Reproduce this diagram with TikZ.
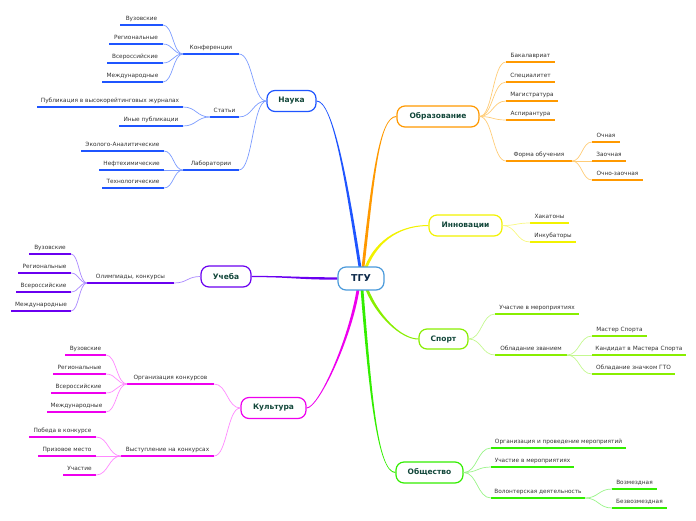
\documentclass[tikz,border=0pt]{standalone}
\usepackage{fontspec}
\setmainfont{DejaVu Sans}
\usetikzlibrary{calc}
\pgfdeclarelayer{bg}
\pgfsetlayers{bg,main}
\definecolor{cblue}{HTML}{1F55FF}
\definecolor{cbluel}{HTML}{7C9CFF}
\definecolor{corange}{HTML}{FF9900}
\definecolor{corangel}{HTML}{FFCC77}
\definecolor{cyellow}{HTML}{F2F200}
\definecolor{cyellowl}{HTML}{F8F880}
\definecolor{clime}{HTML}{88EE00}
\definecolor{climl}{HTML}{C4F890}
\definecolor{cgreen}{HTML}{33EE00}
\definecolor{cgreenl}{HTML}{99F488}
\definecolor{cpurple}{HTML}{6A00F0}
\definecolor{cpurplel}{HTML}{AA88FF}
\definecolor{cmag}{HTML}{EE00EE}
\definecolor{cmagl}{HTML}{FF88FF}
\definecolor{ctgu}{HTML}{4A9ADB}
\definecolor{txtgreen}{HTML}{12473A}
\definecolor{txtnavy}{HTML}{0D2A4A}
\definecolor{txtgray}{HTML}{333333}
\tikzset{
  hc/.style={to path={let \p1=(\tikztostart), \p2=(\tikztotarget) in
     .. controls (\x1/2+\x2/2,\y1) and (\x1/2+\x2/2,\y2) .. (\tikztotarget)}},
  mainbox/.style={draw=#1, line width=1.2pt, rounded corners=8pt, fill=white,
     minimum height=21pt, inner xsep=2pt, inner ysep=0pt,
     font=\fontsize{7.5}{9}\selectfont\bfseries, text=txtgreen},
  ul/.style={draw=#1, line width=1.6pt},
  sc/.style={draw=#1, line width=0.7pt},
  lbl/.style={font=\fontsize{5.8}{7}\selectfont, text=txtgray, inner sep=0pt, anchor=base}
}
\newcommand\mmsub[6]{%
  \coordinate (#1-l) at (#2,#4);
  \coordinate (#1-r) at (#3,#4);
  \draw[ul=#5] (#1-l) -- (#1-r);
  \node[lbl] (#1) at ({(#2+#3)/2},#4-4.5) {#6};
}
% tapered main connector: start, offset1, offset2, end, half-width start, half-width end, colour
\newcommand\taper[7]{%
  \coordinate (tp0) at (#1);
  \coordinate (tp3) at (#4);
  \coordinate (tp1) at ($(tp0)+#2$);
  \coordinate (tp2) at ($(tp3)+#3$);
  \coordinate (ta) at ($(tp0)!#5!90:(tp1)$);
  \coordinate (tb) at ($(tp0)!#5!-90:(tp1)$);
  \coordinate (tc) at ($(tp3)!#6!-90:(tp2)$);
  \coordinate (td) at ($(tp3)!#6!90:(tp2)$);
  \fill[#7] (ta) .. controls ($(tp1)+(ta)-(tp0)$) and ($(tp2)+(tc)-(tp3)$) .. (tc)
     -- (td) .. controls ($(tp2)+(td)-(tp3)$) and ($(tp1)+(tb)-(tp0)$) .. (tb) -- cycle;
}
\begin{document}
\begin{tikzpicture}[x=1pt,y=-1pt]
\useasboundingbox (0,0) rectangle (696,520);

% main nodes
\node[mainbox=ctgu, minimum width=46pt, minimum height=23pt, text=txtnavy,
      font=\fontsize{9.5}{11}\selectfont\bfseries] (tgu) at (361,278.5) {ТГУ};
\node[mainbox=cblue, minimum width=49pt] (nauka) at (291.5,101) {Наука};
\node[mainbox=corange, minimum width=82pt] (obr) at (438,116.5) {Образование};
\node[mainbox=cyellow, minimum width=73pt] (inn) at (465.5,225.5) {Инновации};
\node[mainbox=clime, minimum width=49pt, minimum height=20pt] (sport) at (443.5,339) {Спорт};
\node[mainbox=cgreen, minimum width=67pt] (obsh) at (429.5,472.5) {Общество};
\node[mainbox=cpurple, minimum width=50pt] (uch) at (226,276.5) {Учеба};
\node[mainbox=cmag, minimum width=65pt] (kult) at (273.5,408) {Культура};

% main connectors (behind the nodes)
\begin{pgfonlayer}{bg}
\taper{[xshift=-1pt,yshift=-1pt]tgu.north}{(-14,-90)}{(16,0)}{nauka.east}{1.4pt}{0.5pt}{cblue}
\taper{[xshift=2pt,yshift=-1pt]tgu.north}{(10,-90)}{(-17,0)}{obr.west}{1.4pt}{0.5pt}{corange}
\taper{[xshift=5pt,yshift=-1pt]tgu.north}{(12,-30)}{(-25,0)}{inn.west}{1.4pt}{0.5pt}{cyellow}
\taper{tgu.west}{(-40,0)}{(40,0)}{uch.east}{1.2pt}{0.6pt}{cpurple}
\taper{[xshift=6pt,yshift=1pt]tgu.south}{(10,25)}{(-18,0)}{sport.west}{1.4pt}{0.5pt}{clime}
\taper{[xshift=1pt,yshift=1pt]tgu.south}{(8,100)}{(-18,0)}{obsh.west}{1.4pt}{0.5pt}{cgreen}
\taper{[xshift=-3pt,yshift=1pt]tgu.south}{(-8,50)}{(12,0)}{kult.east}{1.4pt}{0.5pt}{cmag}
\end{pgfonlayer}

% Наука
\mmsub{k1}{183}{239}{54}{cblue}{Конференции}
\mmsub{k1a}{120}{163}{25}{cblue}{Вузовские}
\mmsub{k1b}{109}{163}{44}{cblue}{Региональные}
\mmsub{k1c}{107}{163}{63}{cblue}{Всероссийские}
\mmsub{k1d}{102}{163}{82}{cblue}{Международные}
\mmsub{k2}{210}{239}{117}{cblue}{Статьи}
\mmsub{k2a}{37}{183}{107}{cblue}{Публикация в высокорейтинговых журналах}
\mmsub{k2b}{119}{183}{126}{cblue}{Иные публикации}
\mmsub{k3}{183}{239}{170}{cblue}{Лаборатории}
\mmsub{k3a}{81}{164}{151}{cblue}{Эколого-Аналитические}
\mmsub{k3b}{99}{164}{170}{cblue}{Нефтехимические}
\mmsub{k3c}{102}{164}{188}{cblue}{Технологические}
\foreach \t in {k1,k2,k3} \draw[sc=cbluel] (nauka.west) to[hc] (\t-r);
\foreach \t in {k1a,k1b,k1c,k1d} \draw[sc=cbluel] (k1-l) to[hc] (\t-r);
\foreach \t in {k2a,k2b} \draw[sc=cbluel] (k2-l) to[hc] (\t-r);
\foreach \t in {k3a,k3b,k3c} \draw[sc=cbluel] (k3-l) to[hc] (\t-r);

% Образование
\mmsub{o1}{506}{555}{62}{corange}{Бакалавриат}
\mmsub{o2}{506}{555}{82}{corange}{Специалитет}
\mmsub{o3}{506}{558}{101}{corange}{Магистратура}
\mmsub{o4}{506}{555}{120}{corange}{Аспирантура}
\mmsub{o5}{506}{572}{161}{corange}{Форма обучения}
\mmsub{o5a}{592}{620}{142}{corange}{Очная}
\mmsub{o5b}{592}{626}{161}{corange}{Заочная}
\mmsub{o5c}{592}{643}{180}{corange}{Очно-заочная}
\foreach \t in {o1,o2,o3,o4,o5} \draw[sc=corangel] (obr.east) to[hc] (\t-l);
\foreach \t in {o5a,o5b,o5c} \draw[sc=corangel] (o5-r) to[hc] (\t-l);

% Инновации
\mmsub{i1}{530}{569}{223}{cyellow}{Хакатоны}
\mmsub{i2}{530}{576}{242}{cyellow}{Инкубаторы}
\foreach \t in {i1,i2} \draw[sc=cyellowl] (inn.east) to[hc] (\t-l);

% Спорт
\mmsub{s1}{495}{579}{314}{clime}{Участие в мероприятиях}
\mmsub{s2}{495}{567}{355}{clime}{Обладание званием}
\mmsub{s2a}{592}{647}{336}{clime}{Мастер Спорта}
\mmsub{s2b}{592}{686}{355}{clime}{Кандидат в Мастера Спорта}
\mmsub{s2c}{592}{675}{374}{clime}{Обладание значком ГТО}
\foreach \t in {s1,s2} \draw[sc=climl] (sport.east) to[hc] (\t-l);
\foreach \t in {s2a,s2b,s2c} \draw[sc=climl] (s2-r) to[hc] (\t-l);

% Общество
\mmsub{g1}{491}{626}{448}{cgreen}{Организация и проведение мероприятий}
\mmsub{g2}{491}{574}{467}{cgreen}{Участие в мероприятиях}
\mmsub{g3}{491}{585}{498}{cgreen}{Волонтерская деятельность}
\mmsub{g3a}{612}{657}{489}{cgreen}{Возмездная}
\mmsub{g3b}{612}{667}{508}{cgreen}{Безвозмездная}
\foreach \t in {g1,g2,g3} \draw[sc=cgreenl] (obsh.east) to[hc] (\t-l);
\foreach \t in {g3a,g3b} \draw[sc=cgreenl] (g3-r) to[hc] (\t-l);

% Учеба
\mmsub{u1}{87}{174}{283}{cpurple}{Олимпиады, конкурсы}
\mmsub{u1a}{29}{71}{254}{cpurple}{Вузовские}
\mmsub{u1b}{18}{71}{273}{cpurple}{Региональные}
\mmsub{u1c}{16}{71}{292}{cpurple}{Всероссийские}
\mmsub{u1d}{11}{71}{311}{cpurple}{Международные}
\draw[sc=cpurplel] (uch.west) to[hc] (u1-r);
\foreach \t in {u1a,u1b,u1c,u1d} \draw[sc=cpurplel] (u1-l) to[hc] (\t-r);

% Культура
\mmsub{c1}{127}{214}{384}{cmag}{Организация конкурсов}
\mmsub{c1a}{65}{106}{355}{cmag}{Вузовские}
\mmsub{c1b}{53}{106}{374}{cmag}{Региональные}
\mmsub{c1c}{51}{106}{393}{cmag}{Всероссийские}
\mmsub{c1d}{47}{106}{412}{cmag}{Международные}
\mmsub{c2}{121}{214}{456}{cmag}{Выступление на конкурсах}
\mmsub{c2a}{29}{96}{437}{cmag}{Победа в конкурсе}
\mmsub{c2b}{38}{96}{456}{cmag}{Призовое место}
\mmsub{c2c}{63}{96}{475}{cmag}{Участие}
\foreach \t in {c1,c2} \draw[sc=cmagl] (kult.west) to[hc] (\t-r);
\foreach \t in {c1a,c1b,c1c,c1d} \draw[sc=cmagl] (c1-l) to[hc] (\t-r);
\foreach \t in {c2a,c2b,c2c} \draw[sc=cmagl] (c2-l) to[hc] (\t-r);
\end{tikzpicture}
\end{document}
